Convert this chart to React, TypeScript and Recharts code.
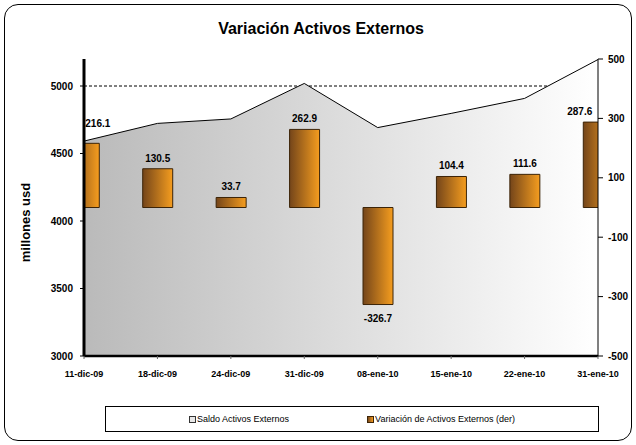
import React from "react";
import {
  ComposedChart,
  Area,
  Bar,
  XAxis,
  YAxis,
  CartesianGrid,
  Legend,
  LabelList,
} from "recharts";

const categories = [
  "11-dic-09",
  "18-dic-09",
  "24-dic-09",
  "31-dic-09",
  "08-ene-10",
  "15-ene-10",
  "22-ene-10",
  "31-ene-10",
];
const saldo = [4592, 4723, 4756, 5019, 4692, 4797, 4908, 5196];
const variacion = [216.1, 130.5, 33.7, 262.9, -326.7, 104.4, 111.6, 287.6];
const leftTicks = [3000, 3500, 4000, 4500, 5000];
const rightTicks = [-500, -300, -100, 100, 300, 500];
const xTicks = categories.map((_, i) => i);

const data = categories.map((name, i) => ({
  idx: i,
  name,
  saldo: saldo[i],
  variacion: variacion[i],
}));

const FONT = "Arial, 'Liberation Sans', sans-serif";

function BarLabel(props: any) {
  const { x, y, width, height, value, index } = props;
  const v = Number(value);
  const cx = x + width / 2;
  let tx = cx;
  let anchor: "start" | "middle" | "end" = "middle";
  if (index === 0) {
    tx = cx + 1;
    anchor = "start";
  }
  if (index === variacion.length - 1) {
    tx = cx - 6;
    anchor = "end";
  }
  const top = Math.min(y, y + height);
  const bottom = Math.max(y, y + height);
  const ty = v >= 0 ? top - 7 - (index === 0 ? 9 : 0) : bottom + 17;
  return (
    <text x={tx} y={ty} textAnchor={anchor} fontSize={10} fontWeight="bold" fill="#000" fontFamily={FONT}>
      {v.toFixed(1)}
    </text>
  );
}

function YLabel(props: any) {
  const { viewBox } = props;
  const x = viewBox.x + 25;
  const y = viewBox.y + viewBox.height / 2 + 15;
  return (
    <text
      x={x}
      y={y}
      transform={`rotate(-90, ${x}, ${y})`}
      textAnchor="middle"
      dominantBaseline="central"
      fontSize={13}
      fontWeight="bold"
      fill="#000"
      fontFamily={FONT}
    >
      millones usd
    </text>
  );
}

// only the tick lines of the left axis, not the top edge of the plot
function GridLine(props: any) {
  const { x1, x2, y1, y2, offset } = props;
  if (offset && Math.abs(y1 - offset.top) < 1) return <g />;
  return <line x1={x1} x2={x2} y1={y1} y2={y2} stroke="#000" strokeWidth={1} strokeDasharray="3 2" />;
}

function LegendBox() {
  return (
    <div
      style={{
        boxSizing: "border-box",
        height: 26,
        border: "1px solid #000",
        background: "#fff",
        display: "flex",
        alignItems: "center",
        justifyContent: "center",
        gap: 78,
        fontFamily: FONT,
        fontSize: 9,
        color: "#000",
      }}
    >
      <span style={{ display: "flex", alignItems: "center" }}>
        <span
          style={{
            display: "inline-block",
            width: 5,
            height: 5,
            border: "1px solid #333",
            background: "#e8e8e8",
            marginRight: 1,
          }}
        />
        Saldo Activos Externos
      </span>
      <span style={{ display: "flex", alignItems: "center" }}>
        <span
          style={{
            display: "inline-block",
            width: 5,
            height: 5,
            border: "1px solid #3c2408",
            background: "linear-gradient(to right, #7a4a1c, #f39a1e)",
            marginRight: 1,
          }}
        />
        Variación de Activos Externos (der)
      </span>
    </div>
  );
}

export default function App() {
  return (
    <div style={{ position: "absolute", left: 0, top: 0, width: 636, height: 445, background: "#fff" }}>
      <div
        style={{
          position: "absolute",
          left: 4,
          top: 4,
          width: 626,
          height: 435,
          border: "1px solid #000",
          borderRadius: 14,
          pointerEvents: "none",
        }}
      />
      <div
        style={{
          position: "absolute",
          left: 0,
          top: 20,
          width: 642,
          textAlign: "center",
          fontFamily: FONT,
          fontWeight: "bold",
          fontSize: 16,
          color: "#000",
        }}
      >
        Variación Activos Externos
      </div>
      <ComposedChart
        width={636}
        height={445}
        data={data}
        margin={{ top: 59, right: 0, bottom: 13, left: 0 }}
      >
        <defs>
          <linearGradient id="areaGrad" x1="0" y1="0" x2="1" y2="0">
            <stop offset="0%" stopColor="#bababa" />
            <stop offset="100%" stopColor="#ffffff" />
          </linearGradient>
          <linearGradient id="barGrad" x1="0" y1="0" x2="1" y2="0">
            <stop offset="0%" stopColor="#74451a" />
            <stop offset="100%" stopColor="#f59d1f" />
          </linearGradient>
        </defs>
        <CartesianGrid
          yAxisId="left"
          vertical={false}
          syncWithTicks
          horizontal={(p: any) => <GridLine {...p} />}
        />
        <XAxis
          dataKey="idx"
          type="number"
          domain={[0, 7]}
          ticks={xTicks}
          interval={0}
          allowDataOverflow
          tickFormatter={(i) => categories[i]}
          height={50}
          axisLine={{ stroke: "#000", strokeWidth: 2.5 }}
          tickLine={{ stroke: "#666" }}
          tickSize={3}
          tickMargin={12}
          tick={{ fontSize: 9, fontWeight: "bold", fill: "#000", fontFamily: FONT }}
        />
        <YAxis
          yAxisId="left"
          orientation="left"
          domain={[3000, 5200]}
          ticks={leftTicks}
          allowDataOverflow
          width={84}
          axisLine={{ stroke: "#000", strokeWidth: 3 }}
          tickLine={{ stroke: "#000" }}
          tickSize={4}
          tickMargin={7}
          tick={{ fontSize: 10, fontWeight: "bold", fill: "#000", fontFamily: FONT }}
          label={<YLabel />}
        />
        <YAxis
          yAxisId="right"
          orientation="right"
          domain={[-500, 500]}
          ticks={rightTicks}
          allowDataOverflow
          width={38}
          axisLine={{ stroke: "#000", strokeWidth: 1 }}
          tickLine={{ stroke: "#000" }}
          tickSize={5}
          tickMargin={5}
          tick={{ fontSize: 10, fontWeight: "bold", fill: "#000", fontFamily: FONT }}
        />
        <Legend
          verticalAlign="bottom"
          content={<LegendBox />}
          wrapperStyle={{ left: 105, width: 494, bottom: 13 }}
        />
        <Area
          yAxisId="left"
          type="linear"
          dataKey="saldo"
          name="Saldo Activos Externos"
          stroke="#000"
          strokeWidth={1}
          fill="url(#areaGrad)"
          fillOpacity={1}
          dot={false}
          activeDot={false}
          isAnimationActive={false}
        />
        <Bar
          yAxisId="right"
          dataKey="variacion"
          name="Variación de Activos Externos (der)"
          fill="url(#barGrad)"
          stroke="#3c2408"
          strokeWidth={1}
          barSize={30}
          isAnimationActive={false}
        >
          <LabelList dataKey="variacion" content={<BarLabel />} />
        </Bar>
      </ComposedChart>
    </div>
  );
}
